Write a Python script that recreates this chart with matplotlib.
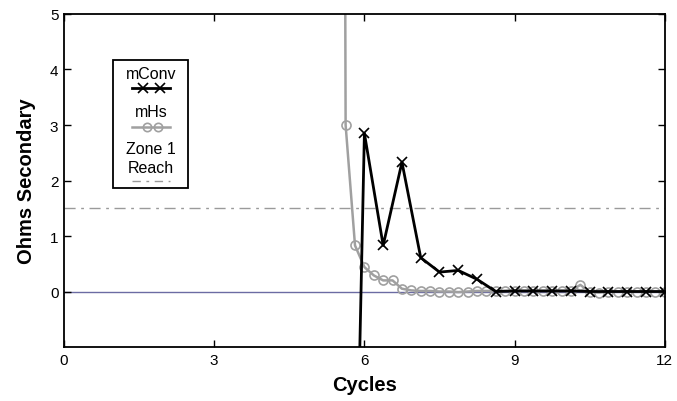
import numpy as np
import matplotlib.pyplot as plt
from matplotlib.lines import Line2D
from matplotlib.patches import Rectangle

plt.rcParams['font.family'] = ['Liberation Sans', 'DejaVu Sans']

# mHs - sampled every 3/16 cycle (first point is far off scale)
hs_x = 5.4375 + 0.1875 * np.arange(36)
hs_y = [60.0, 3.0, 0.83, 0.44, 0.29, 0.20, 0.20, 0.05, 0.02, 0.01,
        0.01, 0.0, 0.0, -0.01, 0.0, 0.01, 0.01, 0.01, 0.01, 0.01,
        0.01, 0.01, 0.01, 0.01, 0.01, 0.01, 0.12, -0.01, -0.02, 0.0,
        0.0, 0.0, 0.0, 0.0, 0.0, 0.0]

# mConv - sampled every 3/8 cycle (first point is far below scale)
conv_x = 5.625 + 0.375 * np.arange(18)
conv_y = [-13.0, 2.85, 0.83, 2.33, 0.61, 0.35, 0.38, 0.22, 0.0, 0.01,
          0.01, 0.01, 0.01, 0.0, 0.0, 0.0, 0.0, 0.0]

zone1_reach = 1.5
x_ticks = [0, 3, 6, 9, 12]
y_ticks = [0, 1, 2, 3, 4, 5]

fig = plt.figure(figsize=(6.77, 4.02), dpi=100)
ax = fig.add_axes([0.0945, 0.1343, 0.8875, 0.8284])

ax.axhline(0, color='#6b6ba3', lw=1.0, zorder=1)
ax.axhline(zone1_reach, color='#9a9a9a', lw=1.0, ls='-.', dashes=(8, 4, 2, 4), zorder=1)
ax.plot(hs_x, hs_y, color='#a0a0a0', lw=1.8, marker='o', ms=6.5,
        mfc='none', mec='#a0a0a0', mew=1.2, zorder=2)
ax.plot(conv_x, conv_y, color='black', lw=2.0, marker='x', ms=7.5,
        mew=1.2, zorder=3)

ax.set_xlim(0, 12)
ax.set_ylim(-1, 5)
ax.set_xticks(x_ticks)
ax.set_yticks(y_ticks)
ax.tick_params(direction='in', length=5, width=1, labelsize=11,
               top=True, right=True, pad=4)
for s in ax.spines.values():
    s.set_linewidth(1.3)

ax.set_xlabel('Cycles', fontsize=14.5, fontweight='bold', labelpad=6)
ax.set_ylabel('Ohms Secondary', fontsize=14.5, fontweight='bold', labelpad=10)

# legend with labels above each key
tr = ax.transAxes
ax.add_patch(Rectangle((0.0815, 0.4775), 0.1248, 0.3845, transform=tr,
                       fill=False, ec='black', lw=1.3, zorder=5))
ax.text(0.1448, 0.82, 'mConv', transform=tr, ha='center', va='center', fontsize=11.5)
ax.add_line(Line2D([0.113, 0.177], [0.778, 0.778], transform=tr, color='black', lw=2.0))
ax.add_line(Line2D([0.131, 0.159], [0.778, 0.778], transform=tr, color='black',
                   lw=0, marker='x', ms=7, mew=1.2))
ax.text(0.1448, 0.707, 'mHs', transform=tr, ha='center', va='center', fontsize=11.5)
ax.add_line(Line2D([0.113, 0.177], [0.66, 0.66], transform=tr, color='#a0a0a0', lw=1.8))
ax.add_line(Line2D([0.139, 0.157], [0.66, 0.66], transform=tr, lw=0, marker='o',
                   ms=6, mfc='none', mec='#a0a0a0', mew=1.2))
ax.text(0.1448, 0.595, 'Zone 1', transform=tr, ha='center', va='center', fontsize=11.5)
ax.text(0.1448, 0.54, 'Reach', transform=tr, ha='center', va='center', fontsize=11.5)
ax.add_line(Line2D([0.113, 0.177], [0.5, 0.5], transform=tr, color='#9a9a9a',
                   lw=1.0, ls='-.', dashes=(6, 4, 2, 4)))

fig.savefig('out.png', dpi=100)
